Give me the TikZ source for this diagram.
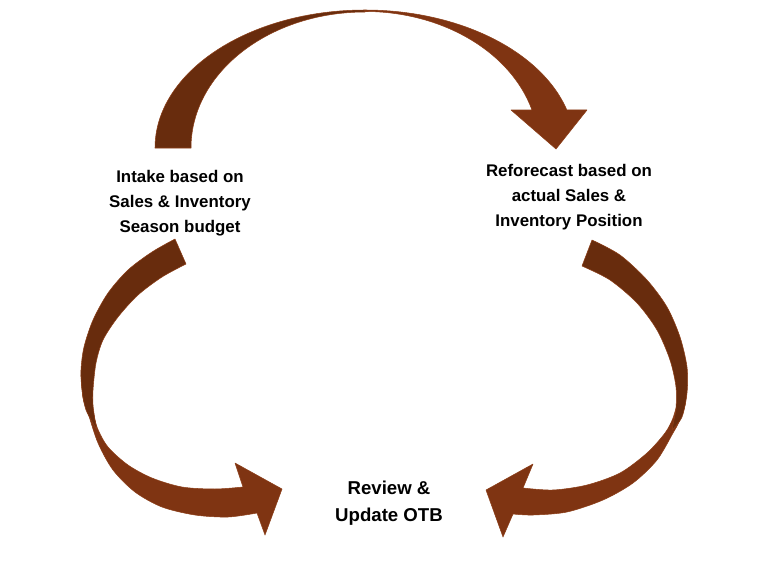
\documentclass[tikz,border=0pt]{standalone}
\usepackage{fontspec}
\setmainfont{Liberation Sans}
\definecolor{arrowdark}{RGB}{104,44,13}
\definecolor{arrowlight}{RGB}{127,52,18}
\definecolor{arrowedge}{RGB}{140,62,24}
\tikzset{
  backpart/.style={fill=arrowdark, draw=arrowedge, line width=0.3pt, line join=round},
  frontpart/.style={fill=arrowlight, draw=arrowedge, line width=0.3pt, line join=round},
  steplabel/.style={align=center, font=\fontsize{9.6}{14.2}\selectfont\bfseries}
}
\begin{document}
\begin{tikzpicture}[x=0.02cm,y=-0.02cm]
  \useasboundingbox (0,0) rectangle (760,571);

  % top arrow
  \filldraw[backpart] (155,148) arc[start angle=180,end angle=270,x radius=210,y radius=138]
    -- (365,12) arc[start angle=270,end angle=180,x radius=174,y radius=136] -- cycle;
  \filldraw[frontpart] (365,10) arc[start angle=270,end angle=344,x radius=210,y radius=138]
    -- (587,110) -- (556,149) -- (511,110) -- (532,110)
    arc[start angle=344,end angle=270,x radius=174,y radius=136] -- cycle;

  % left arrow
  \filldraw[frontpart] plot[smooth] coordinates {(81,375) (83,398) (88,413) (98,443) (113,470) (135,492) (162,507) (195,515) (228,517) (257,513)}
    -- (265,535) -- (282,489) -- (235,463)
    -- plot[smooth] coordinates {(243,487) (215,489) (182,487) (152,478) (128,465) (108,447) (97,427) (92,405)} -- cycle;
  \filldraw[backpart] plot[smooth] coordinates {(175,239) (152,252) (128,270) (108,293) (93,320) (84,347) (81,370) (82,390) (86,410) (97,430)}
    -- plot[smooth] coordinates {(95,420) (93,405) (93,390) (96,363) (103,340) (118,317) (138,295) (162,277) (186,264)} -- cycle;

  % right arrow
  \filldraw[frontpart] plot[smooth] coordinates {(687,385) (685,405) (679,422) (673,433) (657,460) (633,483) (603,500) (567,512) (533,515) (513,514)}
    -- (503,537) -- (486,490) -- (533,464)
    -- plot[smooth] coordinates {(523,488) (553,490) (587,485) (620,473) (647,453) (665,433) (673,418) (678,400)} -- cycle;
  \filldraw[backpart] plot[smooth] coordinates {(592,240) (620,255) (647,280) (667,307) (680,337) (687,367) (687,393) (682,417) (672,430)}
    -- plot[smooth] coordinates {(676,410) (676,387) (670,360) (657,330) (637,303) (610,280) (582,266)} -- cycle;

  % labels
  \node[steplabel] (intake) at (180,203) {Intake based on\\Sales \& Inventory\\Season budget};
  \node[steplabel] (reforecast) at (569,197) {Reforecast based on\\actual Sales \&\\Inventory Position};
  \node[steplabel, font=\fontsize{10.6}{15.3}\selectfont\bfseries] (review) at (389,503) {Review \&\\Update OTB};
\end{tikzpicture}
\end{document}
